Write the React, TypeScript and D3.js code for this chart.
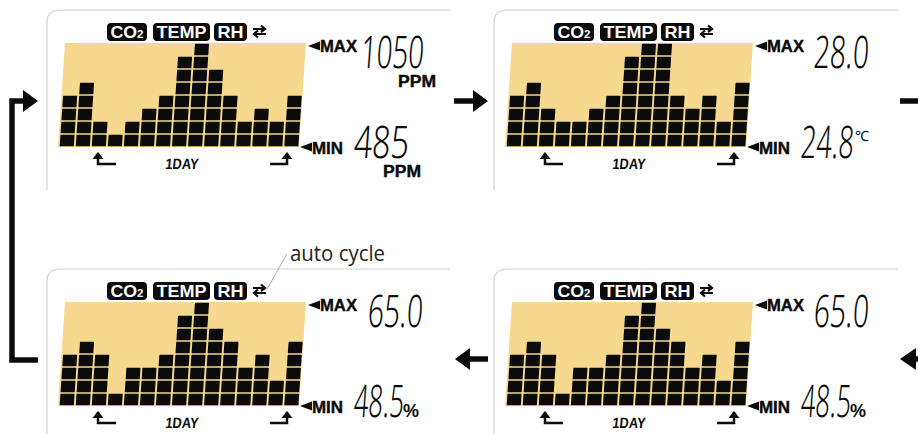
import React from "react";
import * as d3 from "d3";

const hours = d3.range(15);
const co2Levels = [4, 5, 2, 1, 2, 3, 4, 7, 8, 6, 4, 2, 3, 2, 4];
const tempLevels = [4, 5, 3, 2, 2, 3, 4, 7, 8, 8, 4, 3, 4, 2, 5];
const rhLevelsA = [4, 5, 4, 1, 3, 3, 4, 7, 8, 6, 5, 3, 4, 2, 5];
const rhLevelsB = [4, 5, 4, 1, 3, 3, 4, 7, 8, 6, 5, 3, 4, 2, 5];
const badgeLabels = ["CO2", "TEMP", "RH"];
const maxLabels = ["1050", "28.0", "65.0", "65.0"];
const minLabels = ["485", "24.8", "48.5", "48.5"];

const INK = "#0b0b0b";
const FILL = "#f6d98f";
const W = 240;
const H = 104;
const x = d3.scaleBand<number>().domain(hours).range([0, W]).paddingInner(0.12).paddingOuter(0.04);
const y = d3.scaleLinear().domain([0, 8]).range([H, 0]);
const shear = -Math.atan(7 / 104) * 180 / Math.PI;

const DIGIT = "'Noto Sans', Lato, sans-serif";
const BOLD = "'Liberation Sans', Arial, sans-serif";

function Digits({ t, x0, x1, yb, h = 32 }: { t: string; x0: number; x1: number; yb: number; h?: number }) {
  return (
    <text x={0} y={0} transform={`translate(${x0},${yb}) skewX(-4)`} fontFamily={DIGIT} fontWeight={300}
      fontSize={h / 0.714} textLength={x1 - x0} lengthAdjust="spacingAndGlyphs" fill={INK}>{t}</text>
  );
}

function Bold({ t, x0, yb, w, fs = 13 }: { t: string; x0: number; yb: number; w: number; fs?: number }) {
  return (
    <text x={x0} y={yb} fontFamily={BOLD} fontWeight={700} fontSize={fs} textLength={w} lengthAdjust="spacingAndGlyphs" fill={INK}
      stroke={INK} strokeWidth={0.4}>{t}</text>
  );
}

function Cycle({ dx }: { dx: number }) {
  return (
    <g transform={`translate(${dx},-116)`} fill="none" stroke={INK} strokeWidth={2.2}>
      <path d="M1,-2 H13 M9,-5.5 L13,-2 L9,1" />
      <path d="M14,3 H2 M6,-0.5 L2,3 L6,6.5" />
    </g>
  );
}

function TurnArrow({ px, flip }: { px: number; flip?: boolean }) {
  const d = flip ? "M0,17 H17 V6" : "M22,17 H4 V6";
  const head = flip ? "M17,5 L11.5,12 H22.5 Z" : "M4,5 L-1.5,12 H9.5 Z";
  return (
    <g transform={`translate(${px},0)`}>
      <path d={d} fill="none" stroke={INK} strokeWidth={2.5} />
      <path d={head} fill={INK} />
    </g>
  );
}

function Panel({ ox, oy, levels, frameW, frameBottom, children }: any) {
  const widths = [40, 57, 33];
  const starts = [48, 94, 155];
  return (
    <g transform={`translate(${ox},${oy})`}>
      <path d={`M-12,${frameBottom} V-125 Q-12,-137 2,-137 H${frameW}`} fill="none" stroke="#d2d2d2" strokeWidth={1.2} />
      <g transform={`skewX(${shear})`}>
        <rect x={-1} y={-H} width={W + 1} height={H} fill={FILL} />
        {levels.map((v: number, i: number) =>
          d3.range(v).map((k) => (
            <rect key={`${i}-${k}`} x={x(i)} y={y(k + 1) - H + 0.8} width={x.bandwidth()} height={y(k) - y(k + 1) - 1.6} fill={INK} rx={0.5} />
          ))
        )}
      </g>
      {badgeLabels.map((b, i) => (
        <g key={b} transform={`translate(${starts[i]},-124)`}>
          <rect width={widths[i]} height={18} rx={4} fill={INK} />
          <text x={widths[i] / 2} y={15} textAnchor="middle" fontFamily={BOLD} fontWeight={700} fontSize={17} fill="#fff" textLength={widths[i] - 7} lengthAdjust="spacingAndGlyphs">
            {b === "CO2" ? <>CO<tspan fontSize={11}>2</tspan></> : b}
          </text>
        </g>
      ))}
      <Cycle dx={193} />
      <path d="M249,-101 L261,-105.5 V-96.5 Z" fill={INK} />
      <Bold t="MAX" x0={261} yb={-95} w={37} fs={16} />
      <path d="M241,0 L253,-4.5 V4.5 Z" fill={INK} />
      <Bold t="MIN" x0={253} yb={7} w={31} fs={16} />
      <TurnArrow px={35} />
      <TurnArrow px={211} flip />
      <text x={0} y={0} transform="translate(106,22) skewX(-6)" fontFamily={BOLD} fontWeight={700} fontSize={15} fill={INK} textLength={33} lengthAdjust="spacingAndGlyphs">1DAY</text>
      {children}
    </g>
  );
}

export default function App() {
  return (
    <svg width={918} height={434} style={{ position: "absolute", left: 0, top: 0, background: "#fff" }}>
      <Panel ox={59} oy={147} levels={co2Levels} frameW={391} frameBottom={43}>
        <Digits t={maxLabels[0]} x0={301} x1={364} yb={-79} />
        <Digits t={minLabels[0]} x0={294} x1={349} yb={11} />
        <Bold t="PPM" x0={339} yb={-60} w={38} fs={17} />
        <Bold t="PPM" x0={324} yb={30} w={38} fs={17} />
      </Panel>
      <Panel ox={506} oy={147} levels={tempLevels} frameW={392} frameBottom={43}>
        <Digits t={maxLabels[1]} x0={307} x1={362} yb={-79} />
        <Digits t={minLabels[1]} x0={294} x1={347} yb={11} />
        <text x={349} y={-6} fontFamily={DIGIT} fontSize={14} fill={INK}>℃</text>
      </Panel>
      <Panel ox={59} oy={406} levels={rhLevelsA} frameW={391} frameBottom={28}>
        <Digits t={maxLabels[2]} x0={308} x1={363} yb={-79} />
        <Digits t={minLabels[2]} x0={294} x1={344} yb={11} />
        <text x={344} y={11} fontFamily={BOLD} fontWeight={700} fontSize={18} fill={INK}>%</text>
      </Panel>
      <Panel ox={506} oy={406} levels={rhLevelsB} frameW={392} frameBottom={28}>
        <Digits t={maxLabels[3]} x0={307} x1={362} yb={-79} />
        <Digits t={minLabels[3]} x0={294} x1={344} yb={11} />
        <text x={344} y={11} fontFamily={BOLD} fontWeight={700} fontSize={18} fill={INK}>%</text>
      </Panel>
      <text x={290} y={261} fontFamily="'Open Sans', sans-serif" fontSize={21} fill="#222" textLength={95} lengthAdjust="spacingAndGlyphs">auto cycle</text>
      <path d="M287,254 L267,289" stroke="#999" strokeWidth={0.8} fill="none" />
      <path d="M38,360 H12 V101 H28" fill="none" stroke={INK} strokeWidth={5.5} />
      <path d="M38,101 L23,90 V112 Z" fill={INK} />
      <path d="M454,101 H478" stroke={INK} strokeWidth={5.5} />
      <path d="M488,101 L473,90 V112 Z" fill={INK} />
      <path d="M488,359 H465" stroke={INK} strokeWidth={5.5} />
      <path d="M455,359 L470,348 V370 Z" fill={INK} />
      <path d="M900,101 H918" stroke={INK} strokeWidth={5.5} />
      <path d="M900,359 L916,348 V370 Z" fill={INK} />
      <path d="M914,359 H918" stroke={INK} strokeWidth={5.5} />
    </svg>
  );
}
